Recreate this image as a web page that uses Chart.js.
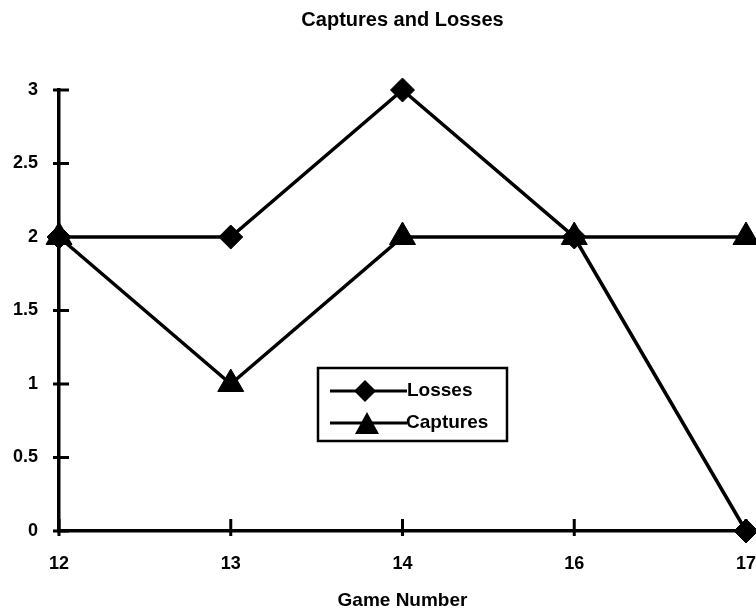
<!DOCTYPE html>
<html>
<head>
<meta charset="utf-8">
<script src="https://cdn.jsdelivr.net/npm/chart.js@4.4.1/dist/chart.umd.min.js"></script>
<style>
  html, body { margin: 0; padding: 0; background: #fff; overflow: hidden; }
  #wrap { width: 756px; height: 610px; position: relative; }
  canvas { display: block; }
</style>
</head>
<body>
<div id="wrap"><canvas id="chart"></canvas></div>
<script>
// data
const games = ['12', '13', '14', '16', '17'];
const losses = [2, 2, 3, 2, 0];
const captures = [2, 1, 2, 2, 2];
const yTicks = [0, 0.5, 1, 1.5, 2, 2.5, 3];
const yTickLabels = ['0', '0.5', '1', '1.5', '2', '2.5', '3'];
const chartTitle = 'Captures and Losses';

const FONT = '"Liberation Sans", Arial, sans-serif';

// title centred over the plot, tick marks crossing the axes, boxed legend
const extras = {
    id: 'extras',
    afterDraw(chart) {
        const ctx = chart.ctx;
        const x = chart.scales.x, y = chart.scales.y;
        const area = chart.chartArea;
        ctx.save();
        ctx.fillStyle = '#000';
        ctx.font = 'bold 20px ' + FONT;
        ctx.textAlign = 'center';
        ctx.textBaseline = 'middle';
        ctx.fillText(chartTitle, (area.left + area.right) / 2, 20);

        ctx.strokeStyle = '#000';
        ctx.lineWidth = 3;
        ctx.beginPath();
        yTicks.forEach(v => {
            const py = y.getPixelForValue(v);
            ctx.moveTo(area.left - 6, py);
            ctx.lineTo(area.left + 10, py);
        });
        games.forEach((g, i) => {
            const px = x.getPixelForValue(i);
            ctx.moveTo(px, area.bottom - 12);
            ctx.lineTo(px, area.bottom + 5);
        });
        ctx.stroke();

        // legend
        ctx.lineWidth = 2.5;
        ctx.strokeRect(318, 368, 189, 73);
        ctx.lineWidth = 3;
        ctx.beginPath();
        ctx.moveTo(330, 391); ctx.lineTo(407, 391);
        ctx.moveTo(330, 423); ctx.lineTo(407, 423);
        ctx.stroke();
        // diamond
        ctx.beginPath();
        ctx.moveTo(365, 380); ctx.lineTo(376, 391); ctx.lineTo(365, 402); ctx.lineTo(354, 391);
        ctx.closePath(); ctx.fill();
        // triangle
        ctx.beginPath();
        ctx.moveTo(367, 412); ctx.lineTo(379, 434); ctx.lineTo(355, 434);
        ctx.closePath(); ctx.fill();
        ctx.font = 'bold 19px ' + FONT;
        ctx.textAlign = 'left';
        ctx.fillText('Losses', 407, 391);
        ctx.fillText('Captures', 406, 423);
        ctx.restore();
    }
};

new Chart(document.getElementById('chart'), {
    type: 'line',
    data: {
        labels: games,
        datasets: [{
            label: 'Losses',
            data: losses,
            borderColor: '#000',
            backgroundColor: '#000',
            borderWidth: 3.5,
            pointStyle: 'rectRot',
            pointRadius: 12,
            pointBorderWidth: 1,
            tension: 0
        }, {
            label: 'Captures',
            data: captures,
            borderColor: '#000',
            backgroundColor: '#000',
            borderWidth: 3.5,
            pointStyle: 'triangle',
            pointRadius: 15,
            pointBorderWidth: 1,
            tension: 0
        }]
    },
    options: {
        responsive: true,
        maintainAspectRatio: false,
        animation: false,
        clip: false,
        layout: { autoPadding: false, padding: { left: 0, right: 10, top: 90, bottom: 0 } },
        plugins: {
            legend: { display: false },
            tooltip: { enabled: false },
            title: { display: false }
        },
        scales: {
            x: {
                offset: false,
                grid: { display: true, drawOnChartArea: false, drawTicks: false },
                border: { display: true, color: '#000', width: 3.5 },
                ticks: {
                    color: '#000',
                    padding: 22,
                    maxRotation: 0,
                    font: { family: FONT, size: 18, weight: 'bold' }
                },
                title: {
                    display: true,
                    text: 'Game Number',
                    color: '#000',
                    font: { family: FONT, size: 19, weight: 'bold', lineHeight: 1 },
                    padding: { top: 16, bottom: 0 }
                },
                afterFit(s) {
                    s.height = 79;
                    s.paddingLeft = 0;
                    s.paddingRight = 0;
                }
            },
            y: {
                min: 0,
                max: 3,
                grid: { display: true, drawOnChartArea: false, drawTicks: false },
                border: { display: true, color: '#000', width: 3.5 },
                afterBuildTicks(s) { s.ticks = yTicks.map(v => ({ value: v })); },
                ticks: {
                    color: '#000',
                    padding: 21,
                    font: { family: FONT, size: 18, weight: 'bold' },
                    callback: (v) => yTickLabels[yTicks.indexOf(v)]
                },
                afterFit(s) {
                    s.width = 59;
                    s.paddingTop = 0;
                    s.paddingBottom = 0;
                }
            }
        }
    },
    plugins: [extras]
});
</script>
</body>
</html>
